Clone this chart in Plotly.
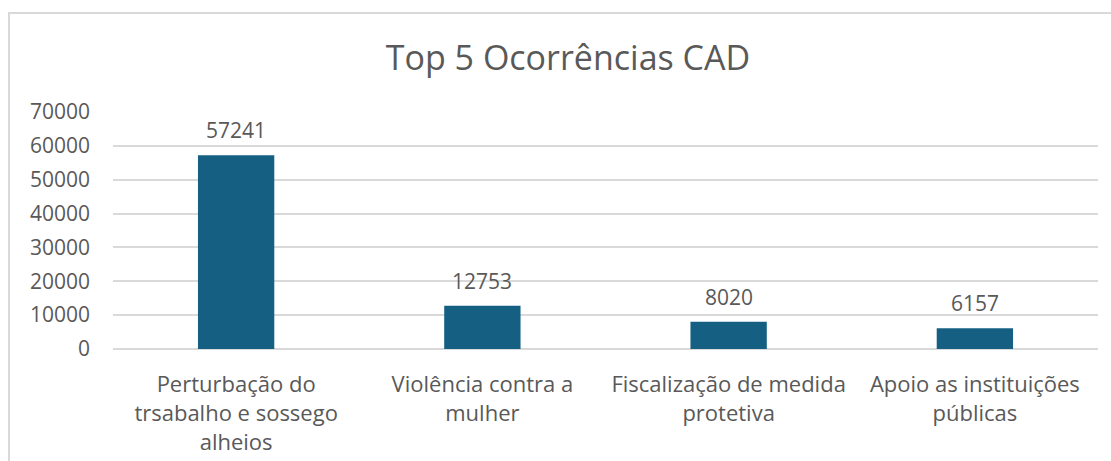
import plotly.graph_objects as go

categories = ["Perturbação do<br>trsabalho e sossego<br>alheios",
              "Violência contra a<br>mulher",
              "Fiscalização de medida<br>protetiva",
              "Apoio as instituições<br>públicas"]
values = [57241, 12753, 8020, 6157]
y_ticks = [0, 10000, 20000, 30000, 40000, 50000, 60000, 70000]

FONT = "Open Sans"
GRAY = "#595959"

fig = go.Figure(go.Bar(
    x=categories, y=values,
    marker=dict(color="#156082", line=dict(width=0)),
    hoverinfo="x+y",
))

L, R, T, B = 113, 13, 112, 112
W, H = 1111, 461
pw, ph = W - L - R, H - T - B

def px(x):
    return (x - L) / pw

def py(y):
    return (H - B - y) / ph

annotations = [dict(x=c, y=v, xref="x", yref="y", text=str(v), showarrow=False,
                    yanchor="middle", yshift=25,
                    font=dict(family=FONT, size=21, color=GRAY))
               for c, v in zip(categories, values)]

fig.update_layout(
    width=W, height=H,
    margin=dict(l=L, r=R, t=T, b=B, autoexpand=False),
    paper_bgcolor="white", plot_bgcolor="white",
    bargap=0.69,
    showlegend=False,
    title=dict(text="Top 5 Ocorrências CAD", x=568 / W, xref="container", xanchor="center",
               y=1 - 58 / H, yanchor="middle",
               font=dict(family=FONT, size=34, color=GRAY)),
    font=dict(family=FONT, size=21, color=GRAY),
    xaxis=dict(showgrid=False, showline=False, ticks="outside", ticklen=16, automargin=False,
               tickcolor="rgba(0,0,0,0)", tickfont=dict(family=FONT, size=22, color=GRAY)),
    yaxis=dict(range=[0, 70000], tickvals=y_ticks, ticktext=[str(v) for v in y_ticks],
               showgrid=True, gridcolor="#d9d9d9", gridwidth=1.5, automargin=False,
               zeroline=True, zerolinecolor="#d9d9d9", zerolinewidth=1.5,
               showline=False, ticks="", ticklabelstandoff=22,
               tickfont=dict(family=FONT, size=21, color=GRAY)),
    annotations=annotations,
    shapes=[dict(type="rect", xref="paper", yref="paper",
                 x0=px(9), x1=px(1120), y0=py(480), y1=py(13),
                 line=dict(color="#d9d9d9", width=2), fillcolor="rgba(0,0,0,0)", layer="below")],
)

fig.write_html("out.html", config={"displayModeBar": False},
               post_script="document.body.style.margin='0';document.body.style.overflow='hidden';")
